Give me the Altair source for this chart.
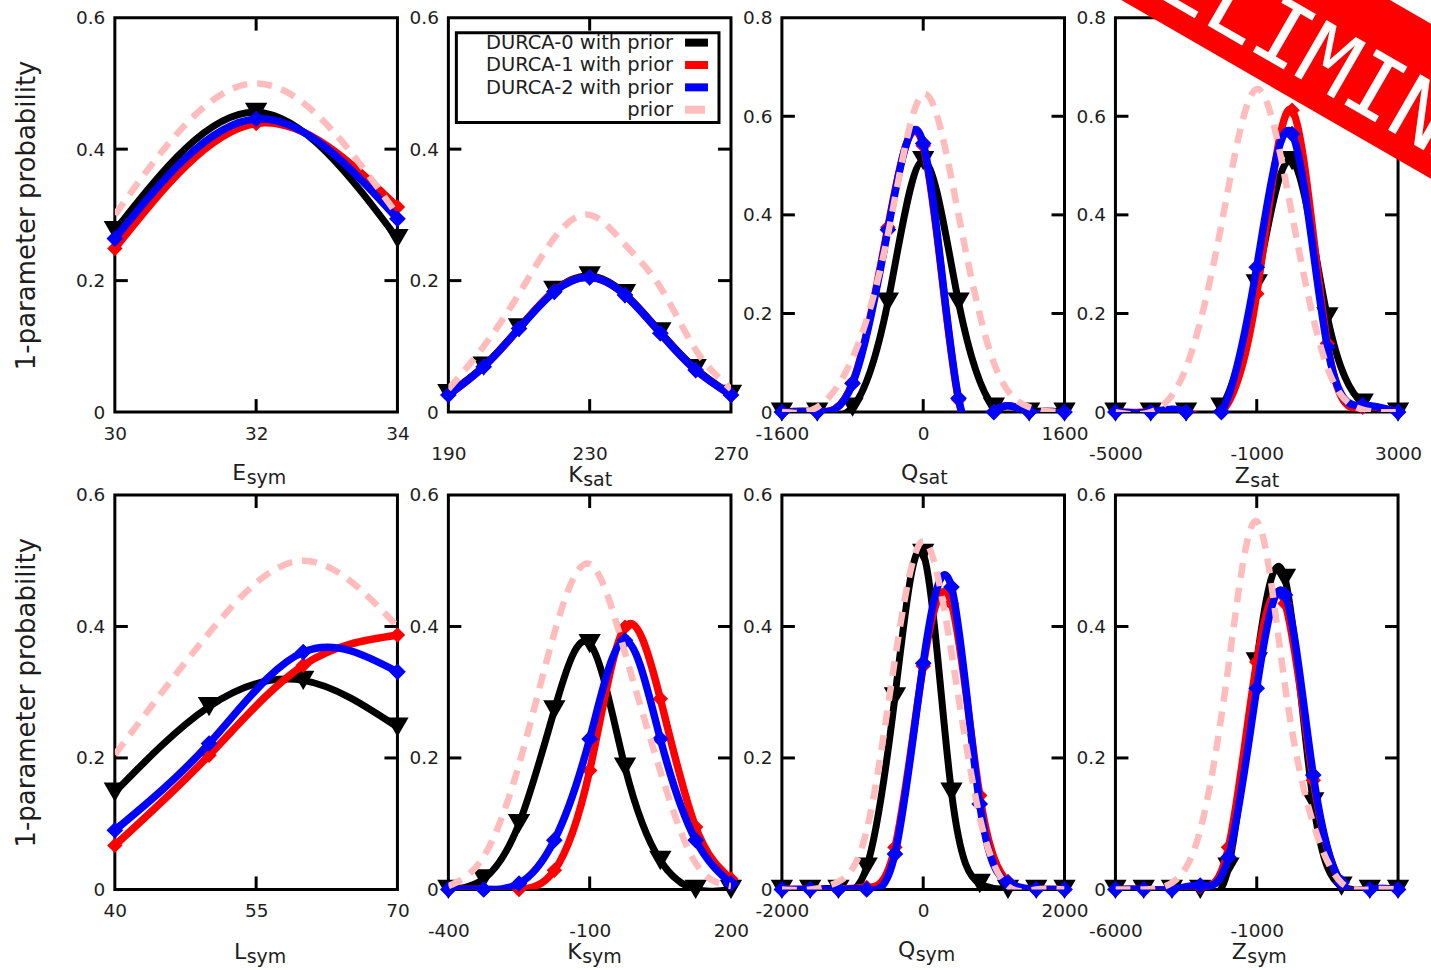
import math
import altair as alt
import pandas as pd

FONT = "DejaVu Sans"
TXT = "#1e1e1e"
W, H = 283, 395

# ---------------- data ----------------
ESYM_X = [30, 32, 34]
ESYM_D0 = [0.276, 0.456, 0.264]
ESYM_D1 = [0.249, 0.439, 0.312]
ESYM_D2 = [0.264, 0.446, 0.294]
ESYM_PRIOR = [0.30, 0.50, 0.30]
ESYM_TICKS = [30, 32, 34]

KSAT_X = [190, 200, 210, 220, 230, 240, 250, 260, 270]
KSAT_D0 = [0.028, 0.070, 0.128, 0.185, 0.207, 0.180, 0.122, 0.066, 0.027]
KSAT_D1 = [0.026, 0.069, 0.127, 0.184, 0.205, 0.178, 0.120, 0.064, 0.026]
KSAT_D2 = [0.026, 0.069, 0.127, 0.183, 0.205, 0.178, 0.120, 0.064, 0.026]
KSAT_PRIOR = [0.035, 0.10, 0.18, 0.265, 0.30, 0.255, 0.19, 0.095, 0.035]
KSAT_TICKS = [190, 230, 270]

QSAT_X = [-1600, -1200, -800, -400, 0, 400, 800, 1200, 1600]
QSAT_D0 = [0, 0, 0.01, 0.223, 0.51, 0.223, 0.01, 0, 0]
QSAT_D1 = [0, 0, 0.06, 0.375, 0.54, 0.025, 0, 0, 0]
QSAT_D2 = [0, 0, 0.058, 0.37, 0.545, 0.028, 0, 0, 0]
QSAT_PRIOR = [0, 0.01, 0.11, 0.36, 0.645, 0.40, 0.10, 0.01, 0]
QSAT_TICKS = [-1600, 0, 1600]

ZSAT_X = [-5000, -4000, -3000, -2000, -1000, 0, 1000, 2000, 3000]
ZSAT_D0 = [0, 0, 0, 0.01, 0.26, 0.51, 0.193, 0.018, 0]
ZSAT_D1 = [0, 0, 0, 0, 0.24, 0.612, 0.139, 0.01, 0]
ZSAT_D2 = [0, 0, 0, 0, 0.294, 0.564, 0.132, 0.014, 0]
ZSAT_PRIOR = [0, 0, 0.09, 0.38, 0.655, 0.40, 0.09, 0.005, 0]
ZSAT_TICKS = [-5000, -1000, 3000]

LSYM_X = [40, 50, 60, 70]
LSYM_D0 = [0.148, 0.278, 0.318, 0.247]
LSYM_D1 = [0.067, 0.204, 0.341, 0.387]
LSYM_D2 = [0.090, 0.222, 0.361, 0.331]
LSYM_PRIOR = [0.205, 0.39, 0.50, 0.40]
LSYM_TICKS = [40, 55, 70]

KSYM_X = [-400, -325, -250, -175, -100, -25, 50, 125, 200]
KSYM_D0 = [0, 0.016, 0.10, 0.273, 0.374, 0.186, 0.044, 0, 0]
KSYM_D1 = [0, 0, 0, 0.029, 0.181, 0.399, 0.29, 0.095, 0.016]
KSYM_D2 = [0, 0, 0.009, 0.075, 0.229, 0.379, 0.229, 0.075, 0.009]
KSYM_PRIOR = [0.005, 0.05, 0.19, 0.39, 0.495, 0.36, 0.18, 0.04, 0.005]
KSYM_TICKS = [-400, -100, 200]

QSYM_X = [-2000, -1600, -1200, -800, -400, 0, 400, 800, 1200, 1600, 2000]
QSYM_D0 = [0, 0, 0, 0.034, 0.293, 0.511, 0.148, 0.009, 0, 0, 0]
QSYM_D1 = [0, 0, 0, 0.003, 0.064, 0.34, 0.435, 0.143, 0.012, 0, 0]
QSYM_D2 = [0, 0, 0, 0, 0.054, 0.344, 0.46, 0.13, 0.01, 0, 0]
QSYM_PRIOR = [0, 0, 0.012, 0.09, 0.35, 0.53, 0.36, 0.11, 0.005, 0, 0]
QSYM_TICKS = [-2000, 0, 2000]

ZSYM_X = [-6000, -5000, -4000, -3000, -2000, -1000, 0, 1000, 2000, 3000, 4000]
ZSYM_D0 = [0, 0, 0, 0, 0.034, 0.346, 0.473, 0.133, 0.005, 0, 0]
ZSYM_D1 = [0, 0, 0, 0.004, 0.064, 0.346, 0.435, 0.166, 0.01, 0, 0]
ZSYM_D2 = [0, 0, 0, 0.006, 0.049, 0.306, 0.448, 0.174, 0.01, 0, 0]
ZSYM_PRIOR = [0, 0, 0.01, 0.09, 0.34, 0.56, 0.31, 0.10, 0.01, 0, 0]
ZSYM_TICKS = [-6000, -1000]

Y_LABELS_06 = [0, 0.2, 0.4, 0.6]
Y_LABELS_08 = [0, 0.2, 0.4, 0.6, 0.8]
Y_TITLE = "1-parameter probability"
LEGEND_LABELS = ["DURCA-0 with prior", "DURCA-1 with prior", "DURCA-2 with prior", "prior"]
WATERMARK = ["PRELIMINARY"]

PANELS = [
    dict(x=ESYM_X, d0=ESYM_D0, d1=ESYM_D1, d2=ESYM_D2, prior=ESYM_PRIOR, xdom=[30, 34], xlab=ESYM_TICKS, xmid=[32], ymax=0.6, main="E", sub="sym"),
    dict(x=KSAT_X, d0=KSAT_D0, d1=KSAT_D1, d2=KSAT_D2, prior=KSAT_PRIOR, xdom=[190, 270], xlab=KSAT_TICKS, xmid=[230], ymax=0.6, main="K", sub="sat"),
    dict(x=QSAT_X, d0=QSAT_D0, d1=QSAT_D1, d2=QSAT_D2, prior=QSAT_PRIOR, xdom=[-1600, 1600], xlab=QSAT_TICKS, xmid=[0], ymax=0.8, main="Q", sub="sat"),
    dict(x=ZSAT_X, d0=ZSAT_D0, d1=ZSAT_D1, d2=ZSAT_D2, prior=ZSAT_PRIOR, xdom=[-5000, 3000], xlab=ZSAT_TICKS, xmid=[-1000], ymax=0.8, main="Z", sub="sat"),
    dict(x=LSYM_X, d0=LSYM_D0, d1=LSYM_D1, d2=LSYM_D2, prior=LSYM_PRIOR, xdom=[40, 70], xlab=LSYM_TICKS, xmid=[55], ymax=0.6, main="L", sub="sym"),
    dict(x=KSYM_X, d0=KSYM_D0, d1=KSYM_D1, d2=KSYM_D2, prior=KSYM_PRIOR, xdom=[-400, 200], xlab=KSYM_TICKS, xmid=[-100], ymax=0.6, main="K", sub="sym"),
    dict(x=QSYM_X, d0=QSYM_D0, d1=QSYM_D1, d2=QSYM_D2, prior=QSYM_PRIOR, xdom=[-2000, 2000], xlab=QSYM_TICKS, xmid=[0], ymax=0.6, main="Q", sub="sym"),
    dict(x=ZSYM_X, d0=ZSYM_D0, d1=ZSYM_D1, d2=ZSYM_D2, prior=ZSYM_PRIOR, xdom=[-6000, 4000], xlab=ZSYM_TICKS, xmid=[-1000], ymax=0.6, main="Z", sub="sym"),
]

# per-panel layout (label padding, title join offset, title baseline offset)
LAYOUT = [
    dict(lpad=12, join=-10, tb=68),
    dict(lpad=32, join=-7, tb=70),
    dict(lpad=12, join=-5, tb=68),
    dict(lpad=32, join=-7, tb=71),
    dict(lpad=12, join=-10, tb=70),
    dict(lpad=32, join=-8, tb=70),
    dict(lpad=12, join=-8, tb=68),
    dict(lpad=32, join=-10, tb=70),
]

BLACK, RED, BLUE, PINK = "#000000", "#ff0000", "#0000ff", "#ffbcbc"
SERIES_STYLE = [
    ("d0", BLACK, 7, "triangle-down", 500),
    ("d1", RED, 7.5, "diamond", 240),
    ("d2", BLUE, 7.5, "diamond", 280),
]
LABEL_EXPR = "toString(datum.value)"
PAGE_W, PAGE_H = 1431, 970
EXTRA = 200  # anchors placed beyond the page, cancelled by negative padding


def make_panel(i):
    p = PANELS[i]
    lay = LAYOUT[i]
    xs = alt.Scale(domain=p["xdom"], nice=False, zero=False)
    ys = alt.Scale(domain=[0, p["ymax"]], nice=False, zero=False)
    ylabels = Y_LABELS_08 if p["ymax"] > 0.7 else Y_LABELS_06
    ytick_vals = [v for v in ylabels if 0 < v < p["ymax"]]

    xaxis = alt.Axis(values=p["xlab"], labelExpr=LABEL_EXPR, ticks=False, domain=False, grid=False,
                     labelFont=FONT, labelFontSize=18.5, labelColor=TXT, labelPadding=lay["lpad"],
                     labelFlush=False, labelOverlap=False, title=None)
    ykw = dict(values=ylabels, labelExpr=LABEL_EXPR, ticks=False, domain=False, grid=False,
               labelFont=FONT, labelFontSize=18.5, labelColor=TXT, labelPadding=10,
               labelFlush=False, labelOverlap=False)
    if i % 4 == 0:
        yaxis = alt.Axis(title=Y_TITLE, titleFont=FONT, titleFontSize=26, titleFontWeight="normal",
                         titleColor=TXT, titlePadding=36, **ykw)
    else:
        yaxis = alt.Axis(title=None, **ykw)

    def X(field="x"):
        return alt.X(f"{field}:Q", scale=xs, axis=xaxis)

    def Y(field="y"):
        return alt.Y(f"{field}:Q", scale=ys, axis=yaxis)

    layers = []
    for key, col, sw, shape, size in SERIES_STYLE:
        df = pd.DataFrame({"x": p["x"], "y": p[key]})
        layers.append(alt.Chart(df).mark_line(color=col, strokeWidth=sw, interpolate="natural",
                                              clip=True).encode(x=X(), y=Y()))
        layers.append(alt.Chart(df).mark_point(shape=shape, filled=True, size=size, color=col,
                                               opacity=1).encode(x=X(), y=Y()))
    dfp = pd.DataFrame({"x": p["x"], "y": p["prior"]})
    layers.append(alt.Chart(dfp).mark_line(color=PINK, strokeWidth=6.5, strokeDash=[15, 10],
                                           interpolate="natural", clip=True).encode(x=X(), y=Y()))

    # inward ticks (gnuplot style, mirrored)
    ydf = pd.DataFrame({"y": ytick_vals})
    xdf = pd.DataFrame({"x": p["xmid"]})
    tl = 13
    layers.append(alt.Chart(ydf).mark_rule(color="black", strokeWidth=3).encode(
        y=Y(), x=alt.value(0), x2=alt.value(tl)))
    layers.append(alt.Chart(ydf).mark_rule(color="black", strokeWidth=3).encode(
        y=Y(), x=alt.value(W - tl), x2=alt.value(W)))
    layers.append(alt.Chart(xdf).mark_rule(color="black", strokeWidth=3).encode(
        x=X(), y=alt.value(H - tl), y2=alt.value(H)))
    layers.append(alt.Chart(xdf).mark_rule(color="black", strokeWidth=3).encode(
        x=X(), y=alt.value(0), y2=alt.value(tl)))

    # x title with subscript
    jx = W / 2 + lay["join"]
    layers.append(alt.Chart(pd.DataFrame({"t": [p["main"]]})).mark_text(
        align="right", baseline="alphabetic", font=FONT, fontSize=22, color=TXT).encode(
        text="t:N", x=alt.value(jx), y=alt.value(H + lay["tb"])))
    layers.append(alt.Chart(pd.DataFrame({"t": [p["sub"]]})).mark_text(
        align="left", baseline="alphabetic", font=FONT, fontSize=19, color=TXT).encode(
        text="t:N", x=alt.value(jx + 0.5), y=alt.value(H + lay["tb"] + 4)))

    one = pd.DataFrame({"a": [0]})

    def anchor(x, y):
        return alt.Chart(one).mark_rule(strokeOpacity=0, strokeWidth=0).encode(
            x=alt.value(x), x2=alt.value(x), y=alt.value(y), y2=alt.value(y))

    if i == 0:
        layers.append(anchor(-113 - EXTRA, 0))          # page left edge
    if i == 3:
        layers.append(anchor(0, -15 - EXTRA))           # page top edge
        layers.append(anchor(PAGE_W - 1116 + EXTRA - 1, 0))  # page right edge
    if i == 7:
        layers.append(anchor(0, PAGE_H - 495 + EXTRA - 1))  # page bottom edge

    if i == 1:
        layers.append(alt.Chart(one).mark_rect(fill="white", stroke="black", strokeWidth=3).encode(
            x=alt.value(8), x2=alt.value(271), y=alt.value(15), y2=alt.value(105)))
        cols = [BLACK, RED, BLUE, PINK]
        for r, (lab, col) in enumerate(zip(LEGEND_LABELS, cols)):
            yb = 31.5 + r * 22.4
            layers.append(alt.Chart(pd.DataFrame({"t": [lab]})).mark_text(
                align="right", baseline="alphabetic", font=FONT, fontSize=19.5, color=TXT).encode(
                text="t:N", x=alt.value(225), y=alt.value(yb)))
            x2 = 257 if r == 3 else 260
            layers.append(alt.Chart(one).mark_rule(color=col, strokeWidth=8).encode(
                x=alt.value(237), x2=alt.value(x2), y=alt.value(yb - 6.5)))

    if i == 3:
        # red "PRELIMINARY" band across the upper right corner of the page
        t = math.tan(math.radians(30))
        ox, oy = 1116, 17  # plot origin on the page
        lo0, up0 = 1123, 1392
        bx = [1100, 1600]
        x0, x1 = p["xdom"]
        ymax = p["ymax"]

        def to_x(px):
            return x0 + (px - ox) / W * (x1 - x0)

        def to_y(py):
            return (H - (py - oy)) / H * ymax

        band = pd.DataFrame({"x": [to_x(v) for v in bx],
                             "y": [to_y(t * (v - up0)) for v in bx],
                             "y2": [to_y(t * (v - lo0)) for v in bx]})
        layers.append(alt.Chart(band).mark_area(color="#ff0000", opacity=1).encode(
            x=X(), y=Y(), y2="y2:Q"))
        wm = pd.DataFrame({"t": WATERMARK, "x": [to_x(1328)], "y": [to_y(64)]})
        layers.append(alt.Chart(wm).mark_text(
            font="DejaVu Sans Mono", fontSize=88, color="white", angle=30, align="center",
            baseline="middle").encode(text="t:N", x=X(), y=Y()))

    return alt.layer(*layers).properties(width=W, height=H)


panels = [make_panel(i) for i in range(8)]

chart = alt.concat(*panels, columns=4, spacing={"row": 83, "column": 51}, bounds="flush").properties(
    padding={"left": -EXTRA, "top": -EXTRA, "right": -EXTRA, "bottom": -EXTRA}, background="white"
).configure_view(stroke="black", strokeWidth=3)

chart.save("out.html", embed_options={"renderer": "svg", "actions": False})
